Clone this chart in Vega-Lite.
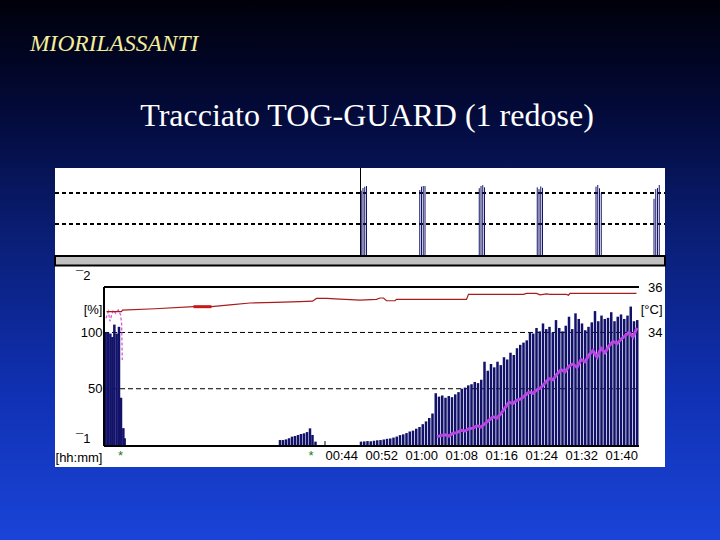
{
  "$schema": "https://vega.github.io/schema/vega-lite/v6.json",
  "width": 720,
  "height": 540,
  "autosize": {"type": "none"},
  "padding": 0,
  "background": "#000010",
  "view": {
    "stroke": null,
    "fill": {
      "gradient": "linear", "x1": 0, "y1": 0, "x2": 0, "y2": 1,
      "stops": [
        {"offset": 0, "color": "#00000a"},
        {"offset": 0.2, "color": "#030a38"},
        {"offset": 0.45, "color": "#0a1f78"},
        {"offset": 0.72, "color": "#1030b2"},
        {"offset": 1, "color": "#1a44d8"}
      ]
    }
  },
  "title": {
    "text": "Tracciato TOG-GUARD (1 redose)",
    "font": "Liberation Serif",
    "fontSize": 32,
    "fontWeight": "normal",
    "color": "white",
    "anchor": "middle",
    "frame": "group",
    "dx": 7,
    "offset": -158,
    "baseline": "alphabetic"
  },
  "config": {
    "font": "Liberation Sans",
    "axis": {"labelFont": "Liberation Sans", "labelFontSize": 13, "labelColor": "black", "domain": false, "ticks": false, "grid": false}
  },
  "datasets": {
    "tof": [
      {"t": 51.25, "v": 74.2}, {"t": 51.6, "v": 77.3}, {"t": 51.95, "v": 78.8}, {"t": 52.3, "v": 79.5},
      {"t": 62.95, "v": 75}, {"t": 63.3, "v": 78.8}, {"t": 63.65, "v": 79.5}, {"t": 64.0, "v": 79.5},
      {"t": 74.85, "v": 77}, {"t": 75.2, "v": 79.5}, {"t": 75.55, "v": 80.5}, {"t": 75.9, "v": 78},
      {"t": 86.45, "v": 78}, {"t": 86.8, "v": 76}, {"t": 87.15, "v": 79}, {"t": 87.5, "v": 77.5},
      {"t": 98.2, "v": 78.8}, {"t": 98.55, "v": 80.7}, {"t": 98.9, "v": 77}, {"t": 99.25, "v": 71.3},
      {"t": 109.8, "v": 65}, {"t": 110.15, "v": 76}, {"t": 110.5, "v": 77.3}, {"t": 110.85, "v": 80.7}
    ],
    "bars": [
      {"t": 0.13, "v": 100}, {"t": 0.6, "v": 100}, {"t": 1.07, "v": 99}, {"t": 1.47, "v": 96}, {"t": 1.87, "v": 107},
      {"t": 2.33, "v": 99}, {"t": 2.8, "v": 105}, {"t": 3.2, "v": 42}, {"t": 3.67, "v": 15}, {"t": 3.93, "v": 6},
      {"t": 35.0, "v": 4.4}, {"t": 35.6, "v": 4.4}, {"t": 36.2, "v": 5}, {"t": 36.8, "v": 6}, {"t": 37.4, "v": 7.4},
      {"t": 38.0, "v": 8}, {"t": 38.6, "v": 8.9}, {"t": 39.2, "v": 9.8}, {"t": 39.8, "v": 10.4}, {"t": 40.4, "v": 11.5},
      {"t": 41.0, "v": 14.8}, {"t": 41.5, "v": 8.9}, {"t": 42.1, "v": 3},
      {"t": 51.2, "v": 3}, {"t": 51.85, "v": 3.2}, {"t": 52.5, "v": 3.5}, {"t": 53.15, "v": 3.3}, {"t": 53.8, "v": 3.8},
      {"t": 54.45, "v": 4.2}, {"t": 55.1, "v": 4.4}, {"t": 55.75, "v": 4.9}, {"t": 56.4, "v": 5.5}, {"t": 57.05, "v": 5.8},
      {"t": 57.7, "v": 6.6}, {"t": 58.35, "v": 7.5}, {"t": 59.0, "v": 8.8}, {"t": 59.65, "v": 9.5}, {"t": 60.3, "v": 10.6},
      {"t": 60.95, "v": 12}, {"t": 61.6, "v": 12.8}, {"t": 62.25, "v": 14.5}, {"t": 62.9, "v": 16}, {"t": 63.55, "v": 18.5},
      {"t": 64.2, "v": 21}, {"t": 64.85, "v": 24}, {"t": 65.5, "v": 28}, {"t": 66.15, "v": 46}, {"t": 66.8, "v": 43},
      {"t": 67.45, "v": 44}, {"t": 68.1, "v": 42}, {"t": 68.75, "v": 43.5}, {"t": 69.4, "v": 42.5}, {"t": 70.05, "v": 45},
      {"t": 70.7, "v": 47}, {"t": 71.35, "v": 50}, {"t": 72.0, "v": 51}, {"t": 72.65, "v": 53}, {"t": 73.3, "v": 54},
      {"t": 73.95, "v": 56}, {"t": 74.6, "v": 55}, {"t": 75.25, "v": 58}, {"t": 75.9, "v": 74}, {"t": 76.55, "v": 66},
      {"t": 77.2, "v": 72}, {"t": 77.85, "v": 69}, {"t": 78.5, "v": 74}, {"t": 79.15, "v": 71}, {"t": 79.8, "v": 78},
      {"t": 80.45, "v": 76}, {"t": 81.1, "v": 82}, {"t": 81.75, "v": 80}, {"t": 82.4, "v": 86}, {"t": 83.05, "v": 89},
      {"t": 83.7, "v": 91}, {"t": 84.35, "v": 93}, {"t": 85.0, "v": 100}, {"t": 85.65, "v": 99}, {"t": 86.3, "v": 104},
      {"t": 86.95, "v": 101}, {"t": 87.6, "v": 108}, {"t": 88.25, "v": 103}, {"t": 88.9, "v": 105}, {"t": 89.55, "v": 100},
      {"t": 90.2, "v": 111}, {"t": 90.85, "v": 104}, {"t": 91.5, "v": 101}, {"t": 92.15, "v": 106}, {"t": 92.8, "v": 114},
      {"t": 93.45, "v": 103}, {"t": 94.1, "v": 117}, {"t": 94.75, "v": 112}, {"t": 95.4, "v": 108}, {"t": 96.05, "v": 102},
      {"t": 96.7, "v": 105}, {"t": 97.35, "v": 109}, {"t": 98.0, "v": 119}, {"t": 98.65, "v": 110}, {"t": 99.3, "v": 115},
      {"t": 99.95, "v": 112}, {"t": 100.6, "v": 113}, {"t": 101.25, "v": 118}, {"t": 101.9, "v": 110}, {"t": 102.55, "v": 114},
      {"t": 103.2, "v": 116}, {"t": 103.85, "v": 112}, {"t": 104.5, "v": 115}, {"t": 105.15, "v": 123}, {"t": 105.8, "v": 110},
      {"t": 106.45, "v": 111}
    ],
    "ratioEarly": [
      {"t": 0.2, "r": 112.6}, {"t": 0.67, "r": 118.5}, {"t": 1.0, "r": 110}, {"t": 1.33, "r": 115.5}, {"t": 1.67, "r": 120},
      {"t": 2.13, "r": 117}, {"t": 2.67, "r": 120}, {"t": 3.13, "r": 115.5}, {"t": 3.33, "r": 107}, {"t": 3.4, "r": 90}, {"t": 3.45, "r": 75.5}
    ],
    "ratio": [
      {"t": 66.4, "r": 7.4}, {"t": 67.2, "r": 8.5}, {"t": 68.0, "r": 9}, {"t": 68.8, "r": 8}, {"t": 69.6, "r": 10.5},
      {"t": 70.4, "r": 11}, {"t": 71.2, "r": 13}, {"t": 72.0, "r": 12.5}, {"t": 72.8, "r": 14.5}, {"t": 73.6, "r": 15},
      {"t": 74.4, "r": 17}, {"t": 75.2, "r": 16}, {"t": 76.0, "r": 19}, {"t": 76.8, "r": 22}, {"t": 77.6, "r": 25},
      {"t": 78.4, "r": 24}, {"t": 79.2, "r": 28}, {"t": 80.0, "r": 33}, {"t": 80.8, "r": 38}, {"t": 81.6, "r": 37},
      {"t": 82.4, "r": 40}, {"t": 83.2, "r": 41}, {"t": 84.0, "r": 44}, {"t": 84.8, "r": 47}, {"t": 85.6, "r": 46},
      {"t": 86.4, "r": 49}, {"t": 87.2, "r": 51}, {"t": 88.0, "r": 55}, {"t": 88.8, "r": 59}, {"t": 89.6, "r": 58},
      {"t": 90.4, "r": 63}, {"t": 91.2, "r": 67}, {"t": 92.0, "r": 65}, {"t": 92.8, "r": 70}, {"t": 93.6, "r": 72},
      {"t": 94.4, "r": 69}, {"t": 95.2, "r": 76}, {"t": 96.0, "r": 74}, {"t": 96.8, "r": 80}, {"t": 97.6, "r": 84},
      {"t": 98.4, "r": 78}, {"t": 99.2, "r": 86}, {"t": 100.0, "r": 82}, {"t": 100.8, "r": 88}, {"t": 101.6, "r": 92},
      {"t": 102.4, "r": 90}, {"t": 103.2, "r": 94}, {"t": 104.0, "r": 97}, {"t": 104.8, "r": 100}, {"t": 105.6, "r": 96},
      {"t": 106.4, "r": 104}
    ],
    "temp": [
      {"t": 0.3, "T": 34.92}, {"t": 3.3, "T": 34.92}, {"t": 3.5, "T": 34.99}, {"t": 10, "T": 35.05}, {"t": 17.7, "T": 35.14},
      {"t": 21.3, "T": 35.14}, {"t": 25, "T": 35.22}, {"t": 29, "T": 35.3}, {"t": 34, "T": 35.33}, {"t": 39, "T": 35.36},
      {"t": 41.5, "T": 35.38}, {"t": 42.3, "T": 35.5}, {"t": 44.3, "T": 35.5}, {"t": 47, "T": 35.47}, {"t": 51, "T": 35.43},
      {"t": 54.3, "T": 35.46}, {"t": 55, "T": 35.52}, {"t": 55.7, "T": 35.52}, {"t": 56.3, "T": 35.4}, {"t": 58, "T": 35.4},
      {"t": 58.3, "T": 35.46}, {"t": 72.3, "T": 35.46}, {"t": 72.7, "T": 35.68}, {"t": 83.7, "T": 35.68}, {"t": 84.3, "T": 35.72},
      {"t": 86.3, "T": 35.72}, {"t": 87, "T": 35.66}, {"t": 88.3, "T": 35.7}, {"t": 89, "T": 35.68}, {"t": 92.3, "T": 35.68},
      {"t": 92.7, "T": 35.64}, {"t": 93, "T": 35.72}, {"t": 106.3, "T": 35.72}
    ],
    "tempBold": [{"t": 17.7, "T": 35.14}, {"t": 21.3, "T": 35.14}],
    "ticks44": [{"t": 44}]
  },
  "layer": [
    {
      "layer": [
        {
          "data": {"values": [{}]},
          "mark": {"type": "rect", "fill": "white"},
          "encoding": {
            "x": {"datum": -10, "type": "quantitative", "scale": {"domain": [-21, 123], "nice": false, "zero": false}},
            "x2": {"datum": 112},
            "y": {"datum": 0, "type": "quantitative", "scale": {"domain": [-322.7, 290.9], "nice": false, "zero": false}, "axis": null},
            "y2": {"datum": 100}
          }
        },
        {
          "data": {"values": [{}]},
          "mark": {"type": "rule", "color": "black", "strokeWidth": 2, "strokeDash": [4, 3]},
          "encoding": {
            "x": {"datum": -10, "type": "quantitative"},
            "x2": {"datum": 112},
            "y": {"datum": 71.6, "type": "quantitative", "axis": null}
          }
        },
        {
          "data": {"values": [{}]},
          "mark": {"type": "rule", "color": "black", "strokeWidth": 2, "strokeDash": [4, 3]},
          "encoding": {
            "x": {"datum": -10, "type": "quantitative"},
            "x2": {"datum": 112},
            "y": {"datum": 36.4, "type": "quantitative", "axis": null}
          }
        },
        {
          "data": {"values": [{}]},
          "mark": {"type": "rule", "color": "black", "strokeWidth": 1},
          "encoding": {
            "x": {"datum": 51.1, "type": "quantitative"},
            "y": {"datum": 0, "type": "quantitative", "axis": null},
            "y2": {"datum": 100}
          }
        },
        {
          "data": {"name": "tof"},
          "mark": {"type": "rule", "color": "#14146a", "strokeWidth": 1},
          "encoding": {
            "x": {"field": "t", "type": "quantitative"},
            "y": {"field": "v", "type": "quantitative", "axis": null},
            "y2": {"datum": 0}
          }
        },
        {
          "data": {"values": [{}]},
          "mark": {"type": "text", "text": "MIORILASSANTI", "font": "Liberation Serif", "fontStyle": "italic", "fontSize": 23.5, "color": "#f2ee9c", "align": "left", "baseline": "alphabetic"},
          "encoding": {
            "x": {"datum": -15, "type": "quantitative"},
            "y": {"datum": 233, "type": "quantitative", "axis": null}
          }
        }
      ]
    },
    {
      "layer": [
        {
          "data": {"values": [{}]},
          "mark": {"type": "rect", "fill": "white"},
          "encoding": {
            "x": {"datum": -10, "type": "quantitative"},
            "x2": {"datum": 112},
            "y": {"datum": -19.5, "type": "quantitative", "scale": {"domain": [-84.4, 395.4], "nice": false, "zero": false},
              "axis": {
                "orient": "left", "offset": -104, "title": null, "zindex": 2,
                "values": [-10.7, 6, 50, 100, 120, 151],
                "labelExpr": "datum.value < 0 ? '[hh:mm]' : datum.value == 6 ? '¯1' : datum.value == 151 ? '¯2' : datum.value == 120 ? '[%]' : datum.label",
                "labelPadding": {"condition": {"test": "datum.value == 6 || datum.value == 151", "value": 14}, "value": 2},
                "labelBaseline": "middle", "labelOverlap": false, "labelFlush": false, "labelBound": false
              }
            },
            "y2": {"datum": 159.5}
          }
        },
        {
          "data": {"values": [{}]},
          "mark": {"type": "rect", "fill": "#c0c0c0", "stroke": "black", "strokeWidth": 2},
          "encoding": {
            "x": {"datum": -10, "type": "quantitative"},
            "x2": {"datum": 112},
            "y": {"datum": 159.5, "type": "quantitative"},
            "y2": {"datum": 168}
          }
        },
        {
          "data": {"values": [{}]},
          "mark": {"type": "rule", "color": "black", "strokeWidth": 1, "strokeDash": [5, 3]},
          "encoding": {
            "x": {"datum": -0.2, "type": "quantitative"},
            "x2": {"datum": 106.8},
            "y": {"datum": 100, "type": "quantitative"}
          }
        },
        {
          "data": {"values": [{}]},
          "mark": {"type": "rule", "color": "black", "strokeWidth": 1, "strokeDash": [5, 3]},
          "encoding": {
            "x": {"datum": -0.2, "type": "quantitative"},
            "x2": {"datum": 106.8},
            "y": {"datum": 50, "type": "quantitative"}
          }
        },
        {
          "data": {"name": "ticks44"},
          "mark": {"type": "rule", "color": "black", "strokeWidth": 1},
          "encoding": {
            "x": {"field": "t", "type": "quantitative"},
            "y": {"datum": 0, "type": "quantitative"},
            "y2": {"datum": 3.5}
          }
        },
        {
          "data": {"name": "bars"},
          "mark": {"type": "rule", "color": "#12126a", "strokeWidth": 2.5},
          "encoding": {
            "x": {"field": "t", "type": "quantitative",
              "axis": {
                "orient": "bottom", "offset": -94, "title": null, "zindex": 2,
                "values": [3, 41.1, 44, 52, 60, 68, 76, 84, 92, 100],
                "labelExpr": "datum.value < 43 ? '*' : (datum.value < 60 ? '00:' : '01:') + (datum.value % 60 < 10 ? '0' : '') + (datum.value % 60)",
                "labelAlign": {"condition": {"test": "datum.value < 43", "value": "center"}, "value": "left"},
                "labelColor": {"condition": {"test": "datum.value < 43", "value": "#1e7a1e"}, "value": "black"},
                "labelPadding": 3, "labelOverlap": false, "labelFlush": false, "labelBound": false
              }
            },
            "y": {"field": "v", "type": "quantitative"},
            "y2": {"datum": 0}
          }
        },
        {
          "data": {"name": "ratioEarly"},
          "mark": {"type": "line", "color": "#d45ad8", "strokeWidth": 1.3, "strokeDash": [3, 2]},
          "encoding": {
            "x": {"field": "t", "type": "quantitative"},
            "y": {"field": "r", "type": "quantitative"}
          }
        },
        {
          "data": {"name": "ratio"},
          "mark": {"type": "line", "color": "#c23ed8", "strokeWidth": 3},
          "encoding": {
            "x": {"field": "t", "type": "quantitative"},
            "y": {"field": "r", "type": "quantitative"}
          }
        },
        {
          "data": {"name": "ratio"},
          "mark": {"type": "line", "color": "#9c5cff", "strokeWidth": 1.6, "strokeDash": [3, 4]},
          "encoding": {
            "x": {"field": "t", "type": "quantitative"},
            "y": {"field": "r", "type": "quantitative"}
          }
        },
        {
          "data": {"values": [{}]},
          "mark": {"type": "rule", "color": "black", "strokeWidth": 2},
          "encoding": {
            "x": {"datum": -0.2, "type": "quantitative"},
            "x2": {"datum": 106.8},
            "y": {"datum": 140.4, "type": "quantitative"}
          }
        },
        {
          "data": {"values": [{}]},
          "mark": {"type": "rule", "color": "black", "strokeWidth": 2},
          "encoding": {
            "x": {"datum": -0.2, "type": "quantitative"},
            "x2": {"datum": 106.8},
            "y": {"datum": -0.9, "type": "quantitative"}
          }
        },
        {
          "data": {"values": [{}]},
          "mark": {"type": "rule", "color": "black", "strokeWidth": 2},
          "encoding": {
            "x": {"datum": -0.2, "type": "quantitative"},
            "y": {"datum": -0.9, "type": "quantitative"},
            "y2": {"datum": 140.4}
          }
        }
      ]
    },
    {
      "layer": [
        {
          "data": {"name": "temp"},
          "mark": {"type": "line", "color": "#a81c1c", "strokeWidth": 1.2},
          "encoding": {
            "x": {"field": "t", "type": "quantitative"},
            "y": {"field": "T", "type": "quantitative", "scale": {"domain": [24.93, 48.56], "nice": false, "zero": false},
              "axis": {
                "orient": "right", "offset": -81, "title": null, "zindex": 2,
                "values": [34, 35, 36],
                "labelExpr": "datum.value == 35 ? '[°C]' : datum.label",
                "labelAlign": "right", "labelPadding": 23, "labelBaseline": "middle",
                "labelOverlap": false, "labelFlush": false, "labelBound": false
              }
            }
          }
        },
        {
          "data": {"name": "tempBold"},
          "mark": {"type": "line", "color": "#c41a1a", "strokeWidth": 3},
          "encoding": {
            "x": {"field": "t", "type": "quantitative"},
            "y": {"field": "T", "type": "quantitative"}
          }
        }
      ]
    }
  ],
  "resolve": {"scale": {"y": "independent"}, "axis": {"y": "independent"}}
}
